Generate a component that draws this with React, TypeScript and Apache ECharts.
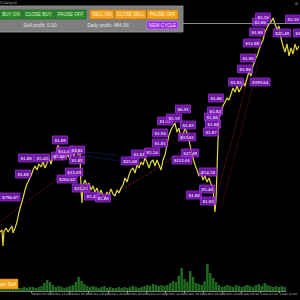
import React, { useEffect, useRef } from "react";
import * as echarts from "echarts";

// hours since 29 Nov 00:24 (chart time)
const priceHours = [
  0.0, 0.4, 0.6, 0.8, 1.2, 1.6, 2.0, 2.4, 2.6, 3.0, 3.4, 3.8, 4.2, 4.6, 5.0, 5.4, 5.8, 6.2, 6.6, 7.0,
  7.4, 7.8, 8.2, 8.6, 9.0, 9.4, 9.8, 10.2, 10.6, 11.0, 11.4, 11.6, 12.0, 12.4, 12.8, 13.2, 13.6, 14.0, 14.4, 14.8,
  15.2, 15.6, 16.0, 16.2, 16.4, 16.6, 17.0, 17.4, 17.8, 18.2, 18.6, 19.0, 19.4, 19.8, 20.2, 20.6, 21.0, 21.4, 21.8, 22.2,
  22.6, 23.0, 23.4, 23.8, 24.2, 24.6, 25.0, 25.4, 25.8, 26.2, 26.6, 27.0, 27.4, 27.8, 28.2, 28.6, 29.0, 29.4, 29.8, 30.2,
  30.6, 31.0, 31.4, 31.8, 32.2, 32.6, 33.0, 33.4, 33.8, 34.2, 34.6, 35.0, 35.4, 35.8, 36.2, 36.6, 37.0, 37.4, 37.8, 38.2,
  38.6, 39.0, 39.4, 39.8, 40.2, 40.6, 41.0, 41.4, 41.8, 42.2, 42.6, 43.0, 43.2, 43.4, 43.6, 43.8, 44.2, 44.6, 45.0, 45.4,
  45.8, 46.2, 46.6, 47.0, 47.4, 47.8, 48.2, 48.6, 49.0, 49.4, 49.8, 50.2, 50.6, 51.0, 51.4, 51.8, 52.2, 52.6, 53.0, 53.4,
  53.8, 54.2, 54.6, 55.0, 55.4, 55.8, 56.2, 56.6, 57.0, 57.4, 57.8, 58.2, 58.6, 59.0, 59.4, 59.8,
];
const priceValues = [
  17180, 17200, 17040, 17190, 17220, 17180, 17210, 17240, 17170, 17220, 17280, 17380, 17450, 17520, 17600, 17660, 17700, 17740, 17800, 17840,
  17800, 17860, 17830, 17880, 17820, 17870, 17920, 17860, 17950, 17900, 18000, 18050, 17950, 17900, 17980, 17920, 17960, 17900, 18000, 17940,
  18020, 17950, 18000, 17600, 17470, 17650, 17700, 17640, 17670, 17600, 17640, 17580, 17620, 17550, 17600, 17540, 17520, 17580, 17550, 17610,
  17560, 17540, 17600, 17570, 17620, 17650, 17720, 17680, 17750, 17800, 17820, 17770, 17850, 17820, 17880, 17850, 17920, 17880, 17820, 17880,
  17900, 17840, 17900, 17850, 17800, 17900, 17950, 18050, 18150, 18200, 18240, 18270, 18180, 18220, 18100, 18150, 18220, 18170, 18100, 18000,
  17920, 17850, 17800, 17740, 17780, 17700, 17740, 17680, 17720, 17660, 17620, 17380, 17500, 17800, 18100, 18320, 18380, 18440, 18480, 18520,
  18500, 18560, 18620, 18580, 18640, 18580, 18620, 18680, 18640, 18720, 18780, 18740, 18840, 18900, 18940, 19000, 19060, 19100, 19180, 19220,
  19260, 19280, 19320, 19260, 19200, 19240, 19120, 19040, 18980, 19060, 18940, 19020, 18960, 19060, 19000, 19040,
];

const bidPrice = 19270;

const redHoursA = [0, 6, 12];
const redValuesA = [17280, 17510, 17730];
const redHoursB = [24, 30, 38];
const redValuesB = [17600, 17770, 18040];
const redHoursC = [42.8, 46.4, 50.4, 52.4];
const redValuesC = [17450, 18100, 18880, 19200];
const redHoursD = [44.4, 48, 51.6];
const redValuesD = [17450, 18150, 18860];
const blueHoursA = [17, 27];
const blueValuesA = [17980, 17930];
const blueHoursB = [17, 27];
const blueValuesB = [17940, 17870];

const labelHours = [
  11.8, 12.0, 13.0, 15.4, 5.2, 8.4, 15.4, 4.6, 14.8, 13.4, 16.2, 18.4, 20.6, 2.0,
  26.0, 27.8, 30.4, 32.0, 32.0, 33.0, 34.8, 36.6, 37.4, 37.6, 38.0, 36.4,
  42.4, 43.0, 42.6, 42.2, 41.6, 41.4, 38.8, 41.6, 43.2, 47.2, 52.0, 49.0, 49.6, 50.4,
  51.4, 52.0, 52.6, 58.6, 56.4, 60.2,
];
const labelPrices = [
  17940, 18100, 17990, 18000, 17920, 17920, 17900, 17760, 17780, 17710, 17620, 17540, 17520, 17530,
  17890, 17960, 17980, 18070, 18170, 18290, 18320, 18410, 18130, 18250, 17970, 17900,
  18330, 18390, 18260, 18180, 17780, 17610, 17550, 17490, 18520, 18680, 18680, 18810, 18920, 19070,
  19180, 19280, 19330, 19310, 19170, 19170,
];
const labelTexts = [
  "$5.60", "$1.89", "$12.64", "$1.82", "$1.80", "$5.43", "$1.83", "$1.88", "$13.69", "$202.62", "$25.25", "$5.40", "$5.80", "$796.07",
  "$25.68", "$1.81", "$5.54", "$1.81", "$1.94", "$1.90", "$5.59", "$6.91", "$13.01", "$1.83", "$27.49", "$112.01",
  "$5.88", "$5.82", "$1.88", "$1.87", "$54.58", "$5.40", "$1.88", "$1.83", "$1.80", "$1.82", "$399.64", "$1.80", "$1.80", "$12.88",
  "$1.88", "$1.80", "$5.50", "$2.10", "$25.49", "$1.83",
];

const volumes = [
  2, 3, 2, 3, 2, 3, 3,
  3, 4, 3, 4, 4, 3, 4,
  5, 8, 11, 9,
  6,
  4, 5, 4, 3, 4, 5,
  6, 9, 14, 10, 7,
  5, 4, 5, 4, 3, 4, 5,
  3, 4, 3, 3, 4, 3, 4, 3, 4, 5, 4, 3, 4,
  5, 6, 5, 7, 6, 5, 6,
  5, 6, 8, 10, 9, 15,
  23,
  12, 9, 20,
  14, 8, 7, 6,
  10,
  27,
  18, 13, 9, 6,
  4, 5, 6, 5, 4, 6, 5, 4, 5, 6, 5, 4,
  6, 7, 5, 8, 6,
  5, 4, 5, 4, 5, 4,
];

const tickHours = [2.6, 6.6, 10.6, 14.6, 18.6, 22.6, 26.6, 30.6, 34.6, 38.6, 42.6, 46.6, 50.6, 54.6, 58.6];
const timeLabels = [
  "29 Nov 03:00", "29 Nov 07:00", "29 Nov 11:00", "29 Nov 15:00", "29 Nov 19:00", "29 Nov 23:00",
  "30 Nov 03:00", "30 Nov 07:00", "30 Nov 11:00", "30 Nov 15:00", "30 Nov 19:00", "30 Nov 23:00",
  "1 Dec 03:00", "1 Dec 07:00", "1 Dec 11:00",
];

const zip = (a: number[], b: number[]) => a.map((v, i) => [v, b[i]]);

export default function App() {
  const ref = useRef<HTMLDivElement>(null);
  useEffect(() => {
    if (!ref.current) return;
    const chart = echarts.init(ref.current, null, { renderer: "svg" });
    const dotted = (h: number[], v: number[], color: string, type: any) => ({
      type: "line",
      xAxisIndex: 0,
      yAxisIndex: 0,
      data: zip(h, v),
      symbol: "none",
      silent: true,
      lineStyle: { color, width: 0.8, type },
      z: 2,
    });
    const btn = (x: number, y: number, w: number, h: number, fill: string, stroke: string, text: string, tcolor: string) => [
      { type: "rect", shape: { x, y, width: w, height: h }, style: { fill, stroke, lineWidth: 0.6 }, z: 101 },
      {
        type: "text",
        x: x + w / 2,
        y: y + h / 2 + 0.3,
        style: { text, fill: tcolor, font: "4.6px 'Liberation Sans'", textAlign: "center", textVerticalAlign: "middle" },
        z: 102,
      },
    ];
    chart.setOption({
      animation: false,
      backgroundColor: "#000000",
      grid: [
        { left: 0, right: 0, top: 0, bottom: 0 },
        { left: 0, right: 0, top: 261, height: 30 },
      ],
      xAxis: [
        { gridIndex: 0, type: "value", min: 0, max: 60, show: false },
        { gridIndex: 1, type: "category", data: volumes.map((_, i) => i), show: false },
        {
          gridIndex: 1,
          type: "value",
          min: 0,
          max: 60,
          position: "bottom",
          axisLine: { show: true, lineStyle: { color: "#7a7a7a", width: 1 } },
          axisTick: { show: true, customValues: tickHours, length: 2, lineStyle: { color: "#9a9a9a" } },
          axisLabel: {
            customValues: tickHours,
            formatter: (v: number) => {
              const i = tickHours.findIndex((t) => Math.abs(t - v) < 0.01);
              return i >= 0 ? timeLabels[i] : "";
            },
            fontSize: 2.9,
            color: "#c8c8c8",
            align: "left",
            margin: 1.5,
            fontFamily: "DejaVu Sans",
          },
          splitLine: { show: false },
        },
      ],
      yAxis: [
        { gridIndex: 0, type: "value", min: 16500, max: 19500, show: false },
        { gridIndex: 1, type: "value", min: 0, max: 30, show: false },
      ],
      series: [
        dotted(redHoursA, redValuesA, "#8e1c1c", "dotted"),
        dotted(redHoursB, redValuesB, "#8e1c1c", "dashed"),
        dotted(redHoursC, redValuesC, "#a82020", "dotted"),
        dotted(redHoursD, redValuesD, "#7a1818", "dotted"),
        dotted(blueHoursA, blueValuesA, "#1c2c90", "dotted"),
        dotted(blueHoursB, blueValuesB, "#1c2c90", "dotted"),
        {
          type: "bar",
          xAxisIndex: 1,
          yAxisIndex: 1,
          data: volumes,
          barCategoryGap: "15%",
          itemStyle: { color: "#1d6c1d" },
          silent: true,
        },
        {
          type: "line",
          xAxisIndex: 0,
          yAxisIndex: 0,
          data: zip(priceHours, priceValues),
          symbol: "none",
          lineStyle: { color: "#e4d83a", width: 1.2 },
          z: 3,
          markLine: {
            silent: true,
            symbol: "none",
            label: { show: false },
            lineStyle: { color: "#8a8a8a", width: 1, type: "solid" },
            data: [{ yAxis: bidPrice }],
          },
        },
        {
          type: "scatter",
          xAxisIndex: 0,
          yAxisIndex: 0,
          clip: false,
          symbolSize: 1,
          itemStyle: { color: "rgba(0,0,0,0)" },
          z: 10,
          data: labelHours.map((h, i) => [h, labelPrices[i], labelTexts[i]]),
          label: {
            show: true,
            position: "inside",
            formatter: (p: any) => p.value[2],
            fontSize: 5,
            fontWeight: "bold",
            fontFamily: "Liberation Serif",
            color: "#ffffff",
            backgroundColor: "#8a1ccc",
            borderColor: "#a848e8",
            borderWidth: 0.5,
            padding: [1.6, 1.8, 1.2, 1.8],
          },
        },
      ],
      graphic: [
        { type: "text", x: 0, y: 3, style: { text: "S,Daily(d)", fill: "#b0b0b0", font: "3.5px 'DejaVu Sans'", textVerticalAlign: "middle" }, z: 102 },
        { type: "text", x: 295, y: 4, style: { text: "M", fill: "#b0b0b0", font: "3.5px 'DejaVu Sans'", textVerticalAlign: "middle" }, z: 102 },
        { type: "rect", shape: { x: -1, y: 6, width: 184, height: 26 }, style: { fill: "#7e7e7e", stroke: "#9c9c9c", lineWidth: 0.8 }, z: 100 },
        ...btn(0, 10, 22, 9, "#2c8a2c", "#1a5c1a", "BUY ON", "#d2eec8"),
        ...btn(23, 10, 31, 9, "#2c8a2c", "#1a5c1a", "CLOSE BUY", "#d2eec8"),
        ...btn(55, 10, 31, 9, "#2c8a2c", "#1a5c1a", "PAUSE OFF", "#d2eec8"),
        ...btn(90, 10, 24, 9, "#f4a21c", "#c47a08", "SELL ON", "#fff3cc"),
        ...btn(115, 10, 31, 9, "#f4a21c", "#c47a08", "CLOSE SELL", "#fff3cc"),
        ...btn(147, 10, 31, 9, "#f4a21c", "#c47a08", "PAUSE OFF", "#fff3cc"),
        ...btn(147, 21, 31, 8, "#9a2ee0", "#c888ff", "NEW CYCLE", "#f4e4ff"),
        {
          type: "text",
          x: 40,
          y: 25.3,
          style: { text: "Sell profit: 0.00", fill: "#e4e4e4", font: "5px 'Liberation Sans'", textAlign: "center", textVerticalAlign: "middle" },
          z: 102,
        },
        {
          type: "text",
          x: 108,
          y: 25.3,
          style: { text: "Daily profit: 484.93", fill: "#e4e4e4", font: "5px 'Liberation Sans'", textAlign: "center", textVerticalAlign: "middle" },
          z: 102,
        },
        { type: "rect", shape: { x: -12, y: 279, width: 30, height: 10 }, style: { fill: "#f2a41c", stroke: "#b87400", lineWidth: 0.6 }, z: 100 },
        {
          type: "text",
          x: 16,
          y: 284.3,
          style: { text: "Open Sell", fill: "#fff6d8", font: "5px 'Liberation Sans'", textAlign: "right", textVerticalAlign: "middle" },
          z: 102,
        },
      ],
    });
    return () => chart.dispose();
  }, []);
  return (
    <div
      ref={ref}
      style={{ position: "absolute", left: 0, top: 0, width: 300, height: 300, background: "#000" }}
    />
  );
}
